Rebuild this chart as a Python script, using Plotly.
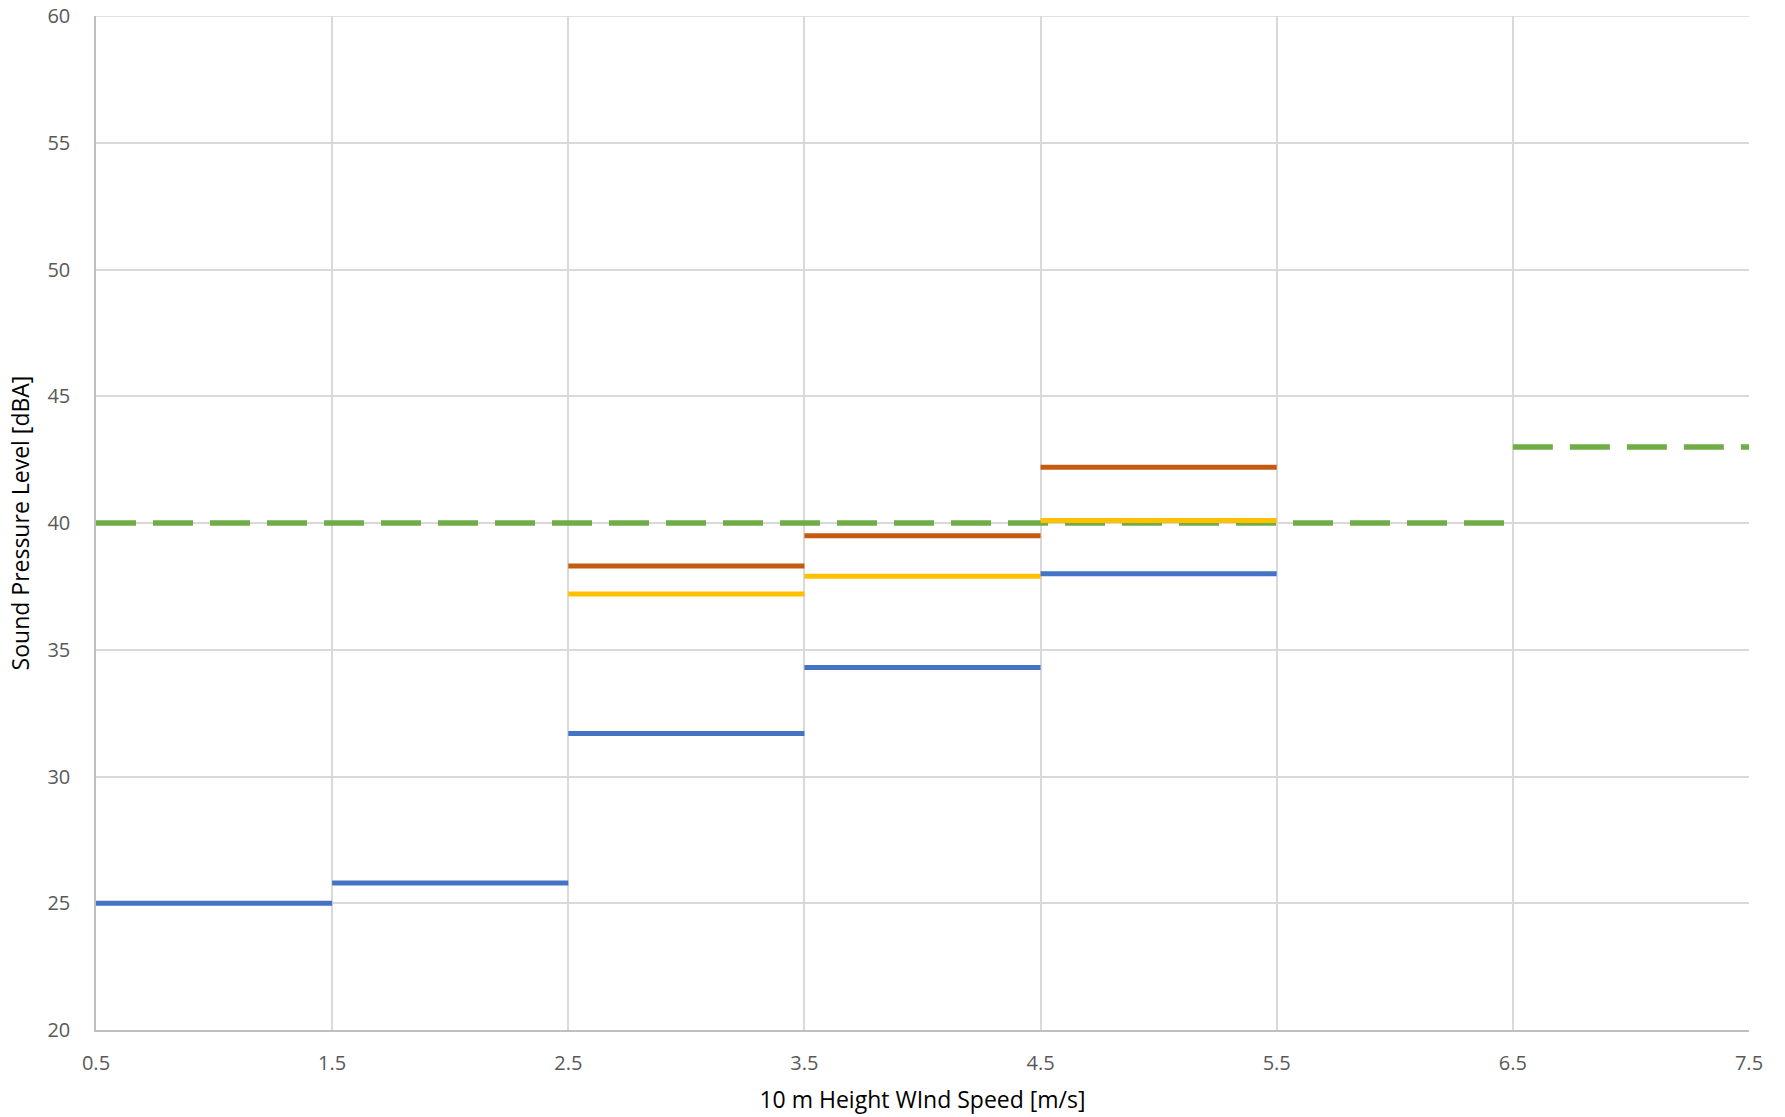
import plotly.graph_objects as go

# Wind speed bin edges
bin_start = [0.5, 1.5, 2.5, 3.5, 4.5]
bin_end = [1.5, 2.5, 3.5, 4.5, 5.5]

blue_vals = [25.0, 25.8, 31.7, 34.3, 38.0]
orange_start = [2.5, 3.5, 4.5]
orange_end = [3.5, 4.5, 5.5]
orange_vals = [38.3, 39.5, 42.2]
yellow_start = [2.5, 3.5, 4.5]
yellow_end = [3.5, 4.5, 5.5]
yellow_vals = [37.2, 37.9, 40.1]
limit_start = [0.5, 6.5]
limit_end = [6.5, 7.5]
limit_vals = [40, 43]

x_ticks = [0.5, 1.5, 2.5, 3.5, 4.5, 5.5, 6.5, 7.5]
y_ticks = [20, 25, 30, 35, 40, 45, 50, 55, 60]


def segs(starts, ends, vals):
    xs, ys = [], []
    for s, e, v in zip(starts, ends, vals):
        xs += [s, e, None]
        ys += [v, v, None]
    return xs, ys


fig = go.Figure()
for (st, en, vals, color, dash, w) in [
    (limit_start, limit_end, limit_vals, "#70AD47", "40px,17px", 5.5),
    (yellow_start, yellow_end, yellow_vals, "#FFC000", "solid", 5),
    (orange_start, orange_end, orange_vals, "#C55A11", "solid", 5),
    (bin_start, bin_end, blue_vals, "#4472C4", "solid", 5),
]:
    xs, ys = segs(st, en, vals)
    fig.add_trace(go.Scatter(x=xs, y=ys, mode="lines",
                             line=dict(color=color, width=w, dash=dash),
                             showlegend=False, hoverinfo="skip"))

# top border gridline (at the y-axis maximum)
fig.add_shape(type="line", xref="x domain", yref="y",
              x0=0, x1=1, y0=y_ticks[-1], y1=y_ticks[-1],
              line=dict(color="#D9D9D9", width=1.5), layer="below")

font = "Open Sans, Liberation Sans, sans-serif"
fig.update_layout(
    width=1785, height=1117,
    margin=dict(l=96, r=36, t=16, b=87),
    paper_bgcolor="white", plot_bgcolor="white",
    font=dict(family=font, color="#595959", size=20),
    showlegend=False,
)
fig.update_xaxes(range=[0.5, 7.5], tickvals=x_ticks,
                 ticktext=[str(v) for v in x_ticks],
                 showgrid=True, gridcolor="#D9D9D9", gridwidth=1.5,
                 showline=True, linecolor="#BFBFBF", linewidth=1.5,
                 zeroline=False, ticks="", ticklen=0, automargin=False,
                 ticklabelstandoff=14,
                 tickfont=dict(size=20, color="#595959"),
                 title=dict(text="10 m Height WInd Speed [m/s]",
                            font=dict(size=23, color="#000000"), standoff=17))
fig.update_yaxes(range=[20, 60], tickvals=y_ticks,
                 showgrid=True, gridcolor="#D9D9D9", gridwidth=1.5,
                 showline=True, linecolor="#BFBFBF", linewidth=1.5,
                 zeroline=False, ticks="", ticklen=0, automargin=False,
                 ticklabelstandoff=20,
                 tickfont=dict(size=20, color="#595959"),
                 title=dict(text="Sound Pressure Level [dBA]",
                            font=dict(size=23, color="#000000"), standoff=11))

fig.write_html("out.html",
               config={"displayModeBar": False},
               post_script="document.body.style.margin='0px';"
                           "document.body.style.overflow='hidden';")
